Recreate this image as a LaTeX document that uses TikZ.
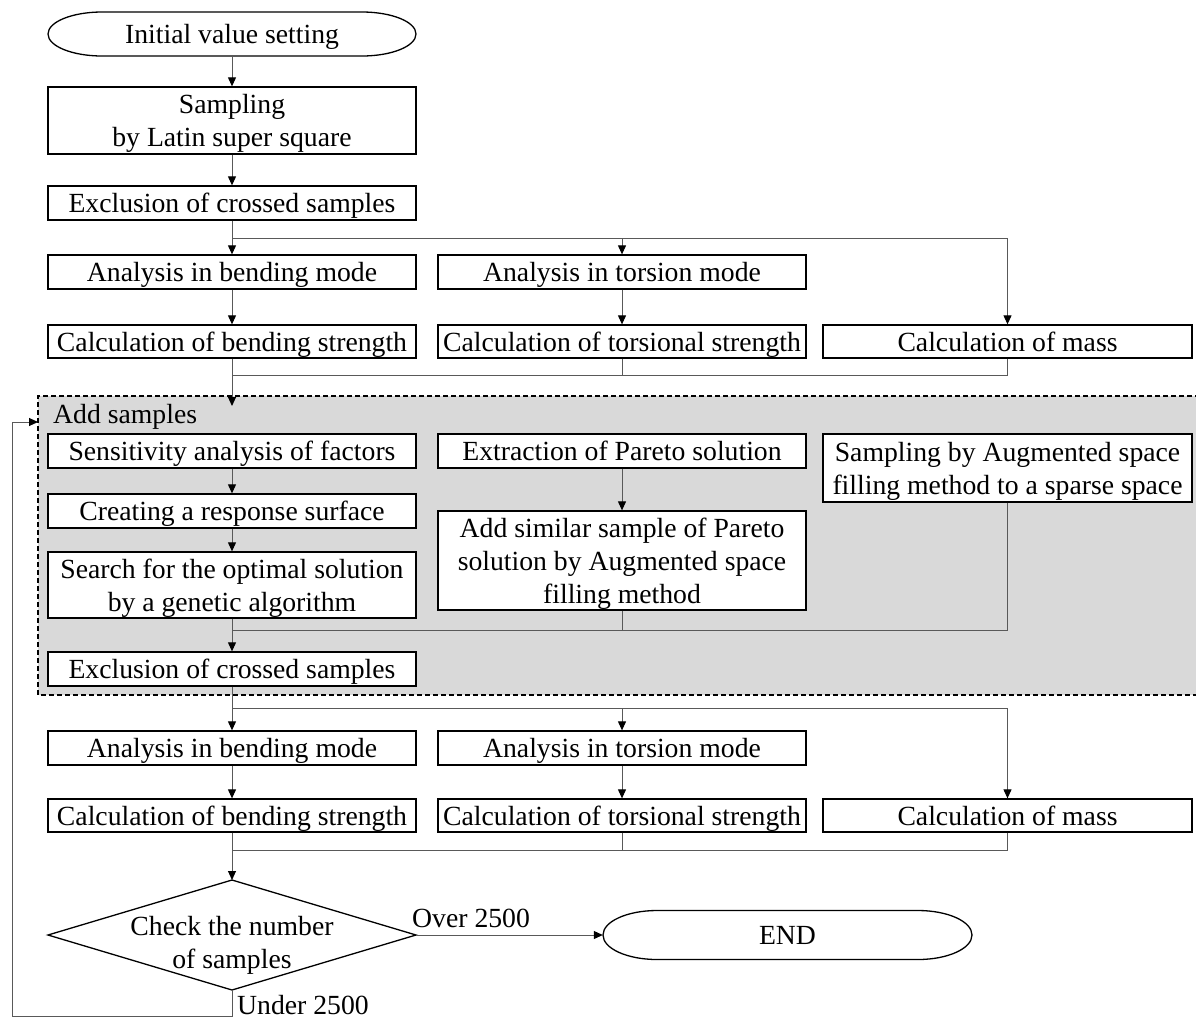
\documentclass[tikz,border=0pt]{standalone}
\usepackage{fontspec}
\setmainfont{Liberation Serif}
\usetikzlibrary{arrows.meta}
\begin{document}
\begin{tikzpicture}[x=1pt,y=1pt,
  txt/.style={font=\fontsize{27.7}{33}\selectfont},
  box/.style={txt,draw=black,line width=1.3pt,fill=white,minimum width=368pt,inner sep=0pt,align=center},
  one/.style={text height=22pt,text depth=3pt},
  multi/.style={text depth=0pt},
  ghost/.style={txt,inner sep=0pt,align=center},
  outline/.style={draw=black,line width=1.3pt},
  conn/.style={draw=black!65,line width=1pt},
  arr/.style={conn,-{Triangle[length=9pt,width=8pt,color=black]}},
  lbl/.style={txt,inner sep=0pt}]
\useasboundingbox (0,0) rectangle (1196,-1018);

% group background
\fill[gray!30] (38,-396) rectangle (1200,-695);
\draw[black,line width=1.1pt,dash pattern=on 5pt off 3pt] (1200,-396) -- (38,-396) -- (38,-695) -- (1200,-695);
\node[lbl,anchor=base west] (addlbl) at (53,-423) {Add samples};
\coordinate (addin) at (232,-406);
\coordinate (loopin) at (38,-422);

% top part
\node[ghost,one,minimum width=368pt,minimum height=44pt] (init) at (232,-34) {Initial value setting};
\draw[outline] (102,-12) -- (362,-12) arc[start angle=90,end angle=-90,x radius=54,y radius=22]
  -- (102,-56) arc[start angle=270,end angle=90,x radius=54,y radius=22] -- cycle;
\node[box,multi,minimum height=67pt] (samp) at (232,-120.5) {Sampling\\by Latin super square};
\node[box,one,minimum height=34pt] (excl1) at (232,-203) {Exclusion of crossed samples};
\node[box,one,minimum height=34pt] (bend1) at (232,-272) {Analysis in bending mode};
\node[box,one,minimum height=34pt] (tors1) at (622,-272) {Analysis in torsion mode};
\node[box,one,minimum height=33pt] (cb1) at (232,-341.5) {Calculation of bending strength};
\node[box,one,minimum height=33pt] (ct1) at (622,-341.5) {Calculation of torsional strength};
\node[box,one,minimum height=33pt,minimum width=369pt] (mass1) at (1007.5,-341.5) {Calculation of mass};

% group content
\node[box,one,minimum height=34pt] (sens) at (232,-451) {Sensitivity analysis of factors};
\node[box,one,minimum height=34pt] (resp) at (232,-511) {Creating a response surface};
\node[box,multi,minimum height=66pt] (search) at (232,-585) {Search for the optimal solution\\by a genetic algorithm};
\node[box,one,minimum height=34pt] (pareto) at (622,-451) {Extraction of Pareto solution};
\node[box,multi,minimum height=99pt] (addsim) at (622,-560.5) {Add similar sample of Pareto\\solution by Augmented space\\filling method};
\node[box,multi,minimum height=68pt,minimum width=369pt] (aug) at (1007.5,-468) {Sampling by Augmented space\\filling method to a sparse space};
\node[box,one,minimum height=34pt] (excl2) at (232,-669) {Exclusion of crossed samples};

% bottom part
\node[box,one,minimum height=34pt] (bend2) at (232,-748) {Analysis in bending mode};
\node[box,one,minimum height=34pt] (tors2) at (622,-748) {Analysis in torsion mode};
\node[box,one,minimum height=33pt] (cb2) at (232,-815.5) {Calculation of bending strength};
\node[box,one,minimum height=33pt] (ct2) at (622,-815.5) {Calculation of torsional strength};
\node[box,one,minimum height=33pt,minimum width=369pt] (mass2) at (1007.5,-815.5) {Calculation of mass};

\coordinate (dT) at (232,-880);
\coordinate (dR) at (416,-935);
\coordinate (dB) at (232,-990);
\coordinate (dL) at (48,-935);
\draw[outline] (dT) -- (dR) -- (dB) -- (dL) -- cycle;
\node[ghost,multi] (check) at (232,-942) {Check the number\\of samples};

\node[ghost,one,minimum width=369pt,minimum height=49pt] (end) at (787.5,-935) {END};
\draw[outline] (657,-910.5) -- (918,-910.5) arc[start angle=90,end angle=-90,x radius=54,y radius=24.5]
  -- (657,-959.5) arc[start angle=270,end angle=90,x radius=54,y radius=24.5] -- cycle;

% junction coordinates
\coordinate (s1) at (232,-238);
\coordinate (m1) at (232,-375);
\coordinate (m2) at (232,-630);
\coordinate (s2) at (232,-708);
\coordinate (m3) at (232,-850);
\coordinate (lb) at (232,-1016);
\coordinate (lc) at (12,-1016);

% connectors
\draw[arr] (init.south) -- (samp.north);
\draw[arr] (samp.south) -- (excl1.north);
\draw[arr] (excl1.south) -- (bend1.north);
\draw[arr] (s1) -| (tors1.north);
\draw[arr] (s1) -| (mass1.north);
\draw[arr] (bend1.south) -- (cb1.north);
\draw[arr] (tors1.south) -- (ct1.north);
\draw[arr] (cb1.south) -- (addin);
\draw[conn] (ct1.south) |- (m1);
\draw[conn] (mass1.south) |- (m1);

\draw[arr] (sens.south) -- (resp.north);
\draw[arr] (resp.south) -- (search.north);
\draw[arr] (pareto.south) -- (addsim.north);
\draw[arr] (search.south) -- (excl2.north);
\draw[conn] (addsim.south) |- (m2);
\draw[conn] (aug.south) |- (m2);

\draw[arr] (excl2.south) -- (bend2.north);
\draw[arr] (s2) -| (tors2.north);
\draw[arr] (s2) -| (mass2.north);
\draw[arr] (bend2.south) -- (cb2.north);
\draw[arr] (tors2.south) -- (ct2.north);
\draw[arr] (cb2.south) -- (dT);
\draw[conn] (ct2.south) |- (m3);
\draw[conn] (mass2.south) |- (m3);

\draw[arr] (dR) -- (end.west);
\node[lbl,anchor=base west] (over) at (412,-927) {Over 2500};
\draw[arr] (dB) -- (lb) -- (lc) |- (loopin);
\node[lbl,anchor=base west] (under) at (237,-1014) {Under 2500};
\end{tikzpicture}
\end{document}
